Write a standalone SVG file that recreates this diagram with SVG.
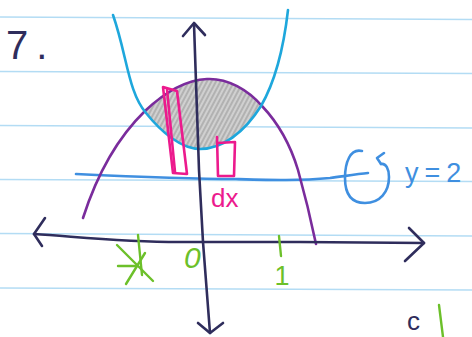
<svg xmlns="http://www.w3.org/2000/svg" width="472" height="337" viewBox="0 0 472 337">
<style>
.paper{stroke:#b3dcf4;stroke-width:1.6;fill:none}
.ink{fill:none;stroke-linecap:round;stroke-linejoin:round}
.navy{stroke:#2f2d5c;stroke-width:2.6}
.purple{stroke:#7a2c9c;stroke-width:2.6}
.cyan{stroke:#1ea7dc;stroke-width:2.6}
.blue{stroke:#3f8fe0;stroke-width:2.6}
.pink{stroke:#ec1a8d;stroke-width:2.6}
.green{stroke:#6cc02a;stroke-width:2.4}
.t{font-family:"Liberation Sans",Arial,sans-serif}
</style>
<defs>
<pattern id="hatch" width="4" height="4" patternUnits="userSpaceOnUse" patternTransform="rotate(28)">
<rect width="4" height="4" fill="#c6c6c6"/>
<line x1="1" y1="0" x2="1" y2="4" stroke="#a4a4a4" stroke-width="1.2"/>
<line x1="3" y1="0" x2="3" y2="4" stroke="#dedede" stroke-width="0.8"/>
</pattern>
</defs>
<rect width="472" height="337" fill="#ffffff"/>
<g id="paper">
<line class="paper" x1="0" y1="17" x2="472" y2="19.5"/>
<line class="paper" x1="0" y1="71.5" x2="472" y2="73.5"/>
<line class="paper" x1="0" y1="125.5" x2="472" y2="128"/>
<line class="paper" x1="0" y1="179.5" x2="472" y2="181.5"/>
<line class="paper" x1="0" y1="233.5" x2="472" y2="236"/>
<line class="paper" x1="0" y1="288" x2="472" y2="290"/>
</g>
<g id="shaded-region">
<path d="M145,111 C165,92 185,80 207,79 C228,78 248,90 262,106 C244,133 222,149 200,149 C182,149 162,133 146,113 Z" fill="url(#hatch)"/>
</g>
<g id="line-y2">
<path class="ink blue" d="M76,174 C140,177 200,179 236,179 C270,180 300,181 330,178 C345,176 358,174 368,173"/>
</g>
<g id="rotation-symbol">
<path class="ink blue" d="M362,151 C350,148 345,163 345,178 C345,195 352,203 365,203 C380,203 389,192 389,177 C389,169 386,163 381,164"/>
<path class="ink blue" d="M384,153 L377,158 L381,164"/>
<text class="t" x="405" y="182" font-size="27" letter-spacing="6" fill="#3f8fe0">y=2</text>
</g>
<g id="curve-purple">
<path class="ink purple" d="M83,218 C92,190 110,145 145,111 C165,92 185,80 207,79 C228,78 248,90 262,106 C280,125 292,150 298,170 C305,195 311,220 316,244"/>
</g>
<g id="curve-cyan">
<path class="ink cyan" d="M113,15 C127,55 128,92 146,113 C162,133 182,149 200,149 C222,149 244,133 261,106 C276,80 284,45 288,10"/>
</g>
<g id="rect-tall">
<path class="ink pink" d="M163,87 L177,91 L187,174 L173,173 Z"/>
<path class="ink pink" d="M167,89 L175,172"/>
</g>
<g id="rect-small">
<path class="ink pink" d="M217,137 L218,176 L234,176 L235,142 L218,143"/>
<text class="t" x="211" y="207" font-size="26" fill="#ec1a8d">dx</text>
</g>
<g id="axes">
<path class="ink navy" d="M34,234 C80,237 120,242 180,242 L300,242 L424,243"/>
<path class="ink navy" d="M45,218 L34,234 L42,246"/>
<path class="ink navy" d="M409,228 L424,243 L405,261"/>
<path class="ink navy" d="M194,24 L199,170 L203,242 L210,333"/>
<path class="ink navy" d="M183,36 L194,23 L205,35"/>
<path class="ink navy" d="M198,323 L210,333 L223,323"/>
</g>
<g id="marks">
<line class="ink green" x1="138" y1="235" x2="142" y2="275"/>
<line class="ink green" x1="117" y1="245" x2="153" y2="281"/>
<line class="ink green" x1="145" y1="253" x2="126" y2="284"/>
<line class="ink green" x1="118" y1="266" x2="137" y2="266"/>
<text class="t" x="184" y="268" font-size="30" font-style="italic" fill="#6cc02a">0</text>
<line class="ink green" x1="279" y1="236" x2="281" y2="256"/>
<text class="t" x="282" y="285" font-size="27" text-anchor="middle" fill="#6cc02a">1</text>
<line class="ink green" x1="439" y1="305" x2="443" y2="337"/>
<text class="t" x="407" y="330" font-size="26" fill="#2f2d5c">c</text>
</g>
<g id="label-7">
<text class="t" x="6" y="59" font-size="40" letter-spacing="8" fill="#2f2d5c">7.</text>
</g>
</svg>
